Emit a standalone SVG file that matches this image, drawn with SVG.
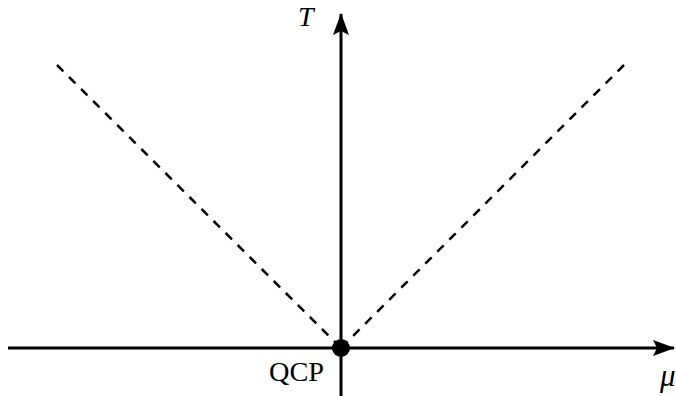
<svg xmlns="http://www.w3.org/2000/svg" width="676" height="396" viewBox="0 0 676 396">
<defs>
<style>
.axis{stroke:#000;stroke-width:3;fill:none}
.dash{stroke:#000;stroke-width:2.5;fill:none;stroke-dasharray:9 8}
.lbl{font-family:"Liberation Serif","DejaVu Serif",serif;fill:#000}
</style>
<marker id="arr" viewBox="0 0 22 16" refX="21" refY="8" markerWidth="22" markerHeight="16" markerUnits="userSpaceOnUse" orient="auto">
<path d="M0,0 L22,8 L0,16 L4,8 Z" fill="#000"/>
</marker>
</defs>
<g id="connectors">
<line class="dash" x1="57" y1="65" x2="341" y2="348"/>
<line class="dash" x1="624" y1="65" x2="341" y2="348"/>
<line class="axis" x1="8" y1="348" x2="674" y2="348" marker-end="url(#arr)"/>
<line class="axis" x1="341" y1="396" x2="341" y2="14" marker-end="url(#arr)"/>
</g>
<g id="qcp">
<circle cx="341" cy="348" r="9" fill="#000"/>
<text class="lbl" x="269" y="381" style="font-size:28px" textLength="55" lengthAdjust="spacingAndGlyphs">QCP</text>
</g>
<g id="T-label">
<text class="lbl" x="298" y="26" style="font-size:28px;font-style:italic">T</text>
</g>
<g id="mu-label">
<text class="lbl" x="660" y="386" style="font-size:31px;font-style:italic">μ</text>
</g>
</svg>
